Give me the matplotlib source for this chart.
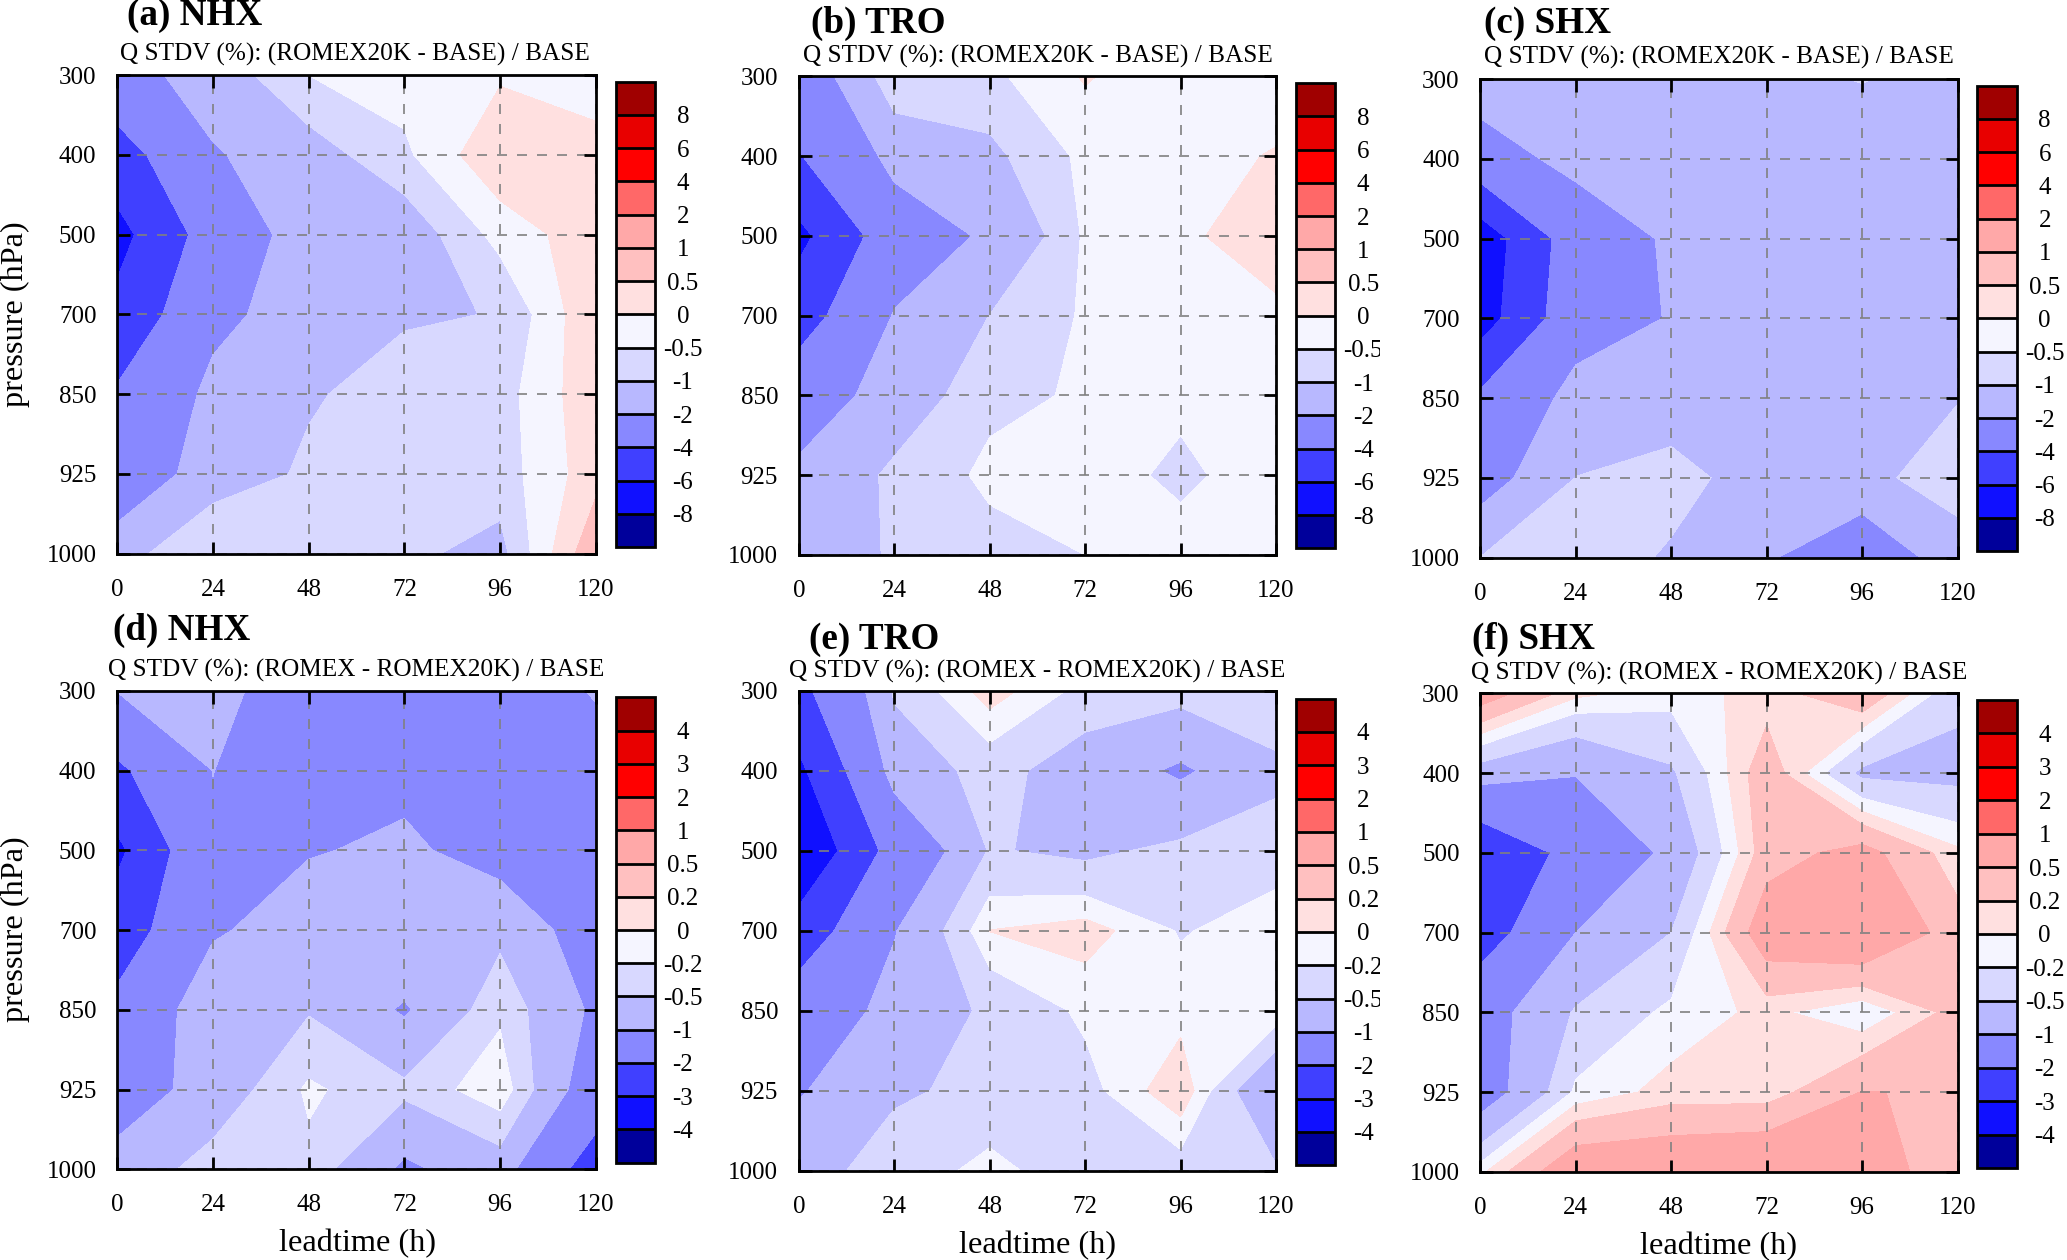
import matplotlib
matplotlib.use("Agg")
import matplotlib.pyplot as plt
from matplotlib.colors import ListedColormap, BoundaryNorm
from matplotlib.cm import ScalarMappable
from matplotlib.transforms import Bbox
import numpy as np

plt.rcParams['font.family'] = ['Liberation Serif', 'DejaVu Serif']

leadtime = [0, 24, 48, 72, 96, 120]
pressure = ['300', '400', '500', '700', '850', '925', '1000']
levels_top = [-8, -6, -4, -2, -1, -0.5, 0, 0.5, 1, 2, 4, 6, 8]
levels_bot = [-4, -3, -2, -1, -0.5, -0.2, 0, 0.2, 0.5, 1, 2, 3, 4]
labels_top = ['-8', '-6', '-4', '-2', '-1', '-0.5', '0', '0.5', '1', '2', '4', '6', '8']
labels_bot = ['-4', '-3', '-2', '-1', '-0.5', '-0.2', '0', '0.2', '0.5', '1', '2', '3', '4']
palette = ['#00009b', '#1010ff', '#4040ff', '#8888ff', '#b8b8ff', '#d8d8ff', '#f5f5ff',
           '#ffe0e0', '#ffc0c0', '#ffa8a8', '#ff6868', '#ff0000', '#e80000', '#a00000']

panel_a = [[-2.6, -1.38, -.5, -.29, -.07, -.55],
           [-4.83, -2.12, -1.29, -.6, .43, .4],
           [-6.63, -3.1, -1.34, -1.4, -.32, .32],
           [-5.48, -2.36, -1.36, -1.05, -.985, .46],
           [-3.77, -1.65, -1.05, -.81, -.72, .38],
           [-3.17, -1.3, -.92, -.82, -.75, .3],
           [-1.25, -.49, -.6, -.89, -1.18, .98]]
panel_b = [[-2.88, -.52, -.63, .05, -.4, -.15],
           [-4.1, -1.58, -1.146, -.38, -.1, .02],
           [-6.5, -2.86, -1.8, -.43, -.1, .28],
           [-4.86, -1.92, -.99, -.44, -.2, -.11],
           [-2.81, -1.45, -.61, -.45, -.38, -.2],
           [-1.72, -.86, -.4, -.25, -.62, -.2],
           [-1.5, -.92, -.67, -.5, -.27, -.3]]
panel_c = [[-1.39, -1.5, -1.5, -1.2, -.97, -1.3],
           [-2.63, -1.62, -1.6, -1.5, -1.5, -1.4],
           [-7.19, -2.94, -1.81, -1.6, -1.5, -1.5],
           [-6.92, -2.67, -1.93, -1.6, -1.6, -1.5],
           [-3.65, -1.52, -1.31, -1.4, -1.5, -1.03],
           [-2.55, -.99, -.8, -1.28, -1.2, -.65],
           [-.99, -.69, -1.07, -1.87, -2.98, -1.37]]
panel_d = [[-.98, -.85, -1.3, -1.4, -1.4, -.95],
           [-2.16, -.995, -1.3, -1.15, -1.4, -1.3],
           [-3.2, -1.06, -1.04, -.9, -1.24, -1.5],
           [-2.51, -1.08, -.68, -.52, -.6, -1.32],
           [-1.76, -.55, -.53, -1.06, -.26, -1.1],
           [-1.34, -.76, -.15, -.41, -.02, -1.4],
           [-.77, -.34, -.28, -1.1, -.7, -2.5]]
panel_e = [[-2.26, -.45, .107, -.28, -.35, -.2],
           [-3.2, -.76, -.365, -.705, -1.08, -.6],
           [-3.95, -1.63, -.47, -.586, -.406, -.31],
           [-2.57, -1.03, .005, .1, -.22, -.08],
           [-1.45, -.82, -.43, -.15, -.08, -.02],
           [-1.05, -.53, -.45, -.29, .16, -.98],
           [-.6, -.4, -.1, -.41, -.33, -.46]]
panel_f = [[.71, .055, -.1, .08, .44, -.42],
           [-.69, -.97, -.55, .38, -.58, -.61],
           [-2.85, -1.69, -.85, .35, .63, .05],
           [-2.47, -1, -.5, .74, .94, .32],
           [-1.28, -.46, -.14, .06, -.17, .3],
           [-1.35, -.15, .08, .077, .51, .47],
           [-.05, .82, .85, .93, .7, .3]]

W, H = 2067, 1260
S = 2067 / 1568
fig = plt.figure(figsize=(W / 100, H / 100), dpi=100, facecolor='white')


def rect(x0, y0, x1, y1):
    return [x0 * S / W, 1 - y1 * S / H, (x1 - x0) * S / W, (y1 - y0) * S / H]


def put(x, y, s, **kw):
    fig.text(x * S / W, 1 - y * S / H, s, ha=kw.pop('ha', 'center'), va='center', **kw)


setup = [
    (panel_a, '(a) NHX', '(ROMEX20K - BASE)', levels_top, labels_top, (89, 57, 452, 420), (467, 62, 497, 415), (96, 12), (269.5, 41.5), None),
    (panel_b, '(b) TRO', '(ROMEX20K - BASE)', levels_top, labels_top, (606, 58, 968, 421), (983, 63, 1013, 416), (615, 18), (787, 42.5), 1047),
    (panel_c, '(c) SHX', '(ROMEX20K - BASE)', levels_top, labels_top, (1123, 60, 1485, 423), (1500, 65, 1530, 418), (1126, 18), (1304, 43.5), None),
    (panel_d, '(d) NHX', '(ROMEX - ROMEX20K)', levels_bot, labels_bot, (89, 524, 452, 887), (467, 529, 497, 882), (86, 478), (270.5, 508.5), None),
    (panel_e, '(e) TRO', '(ROMEX - ROMEX20K)', levels_bot, labels_bot, (606, 524, 968, 888), (983, 530, 1013, 884), (614, 485), (787, 509.5), 1047),
    (panel_f, '(f) SHX', '(ROMEX - ROMEX20K)', levels_bot, labels_bot, (1123, 526, 1485, 889), (1500, 531, 1530, 886), (1117, 485), (1304, 510.5), None),
]

ypos = np.arange(len(pressure))
for data, title, sub, levels, labels, box, cbox, tpos, spos, clipx in setup:
    ax = fig.add_axes(rect(*box))
    ax.contourf(leadtime, ypos, np.array(data), levels=levels, colors=palette, extend='both')
    ax.set_xlim(leadtime[0], leadtime[-1])
    ax.set_ylim(ypos[-1], ypos[0])
    ax.set_xticks(leadtime)
    ax.set_yticks(ypos)
    ax.set_yticklabels(pressure)
    ax.tick_params(direction='in', length=9, width=2, top=True, right=True, labelsize=18)
    ax.tick_params(axis='x', pad=18)
    ax.tick_params(axis='y', pad=15)
    ax.set_axisbelow(False)
    ax.grid(True, color='#808080', linestyle=(0, (6, 6)), linewidth=1.2)
    for sp in ax.spines.values():
        sp.set_linewidth(2)
        sp.set_zorder(5)

    cax = fig.add_axes(rect(*cbox))
    cmap = ListedColormap(palette[1:-1])
    cmap.set_under(palette[0])
    cmap.set_over(palette[-1])
    norm = BoundaryNorm(levels, cmap.N)
    cb = fig.colorbar(ScalarMappable(norm=norm, cmap=cmap), cax=cax, ticks=levels, spacing='uniform',
                      extend='both', extendrect=True, extendfrac=1 / 12, drawedges=True)
    cb.dividers.set_color('black')
    cb.dividers.set_linewidth(2)
    cb.outline.set_linewidth(2)
    cb.set_ticklabels(labels)
    cax.tick_params(length=0, labelsize=18, pad=20)
    for t in cax.get_yticklabels():
        t.set_ha('center')
        if clipx is not None:
            t.set_clip_on(True)
            t.set_clip_box(Bbox([[0, 0], [clipx * S, H]]))

    put(*tpos, title, ha='left', fontsize=26.7, fontweight='bold')
    put(*spos, 'Q STDV (%): ' + sub + ' / BASE', fontsize=18.2)

put(12, 238, 'pressure (hPa)', rotation=90, fontsize=23.3)
put(12, 705, 'pressure (hPa)', rotation=90, fontsize=23.3)
put(271, 943, 'leadtime (h)', fontsize=23.3)
put(787, 945, 'leadtime (h)', fontsize=23.3)
put(1304, 946, 'leadtime (h)', fontsize=23.3)

fig.savefig('out.png', dpi=100)
